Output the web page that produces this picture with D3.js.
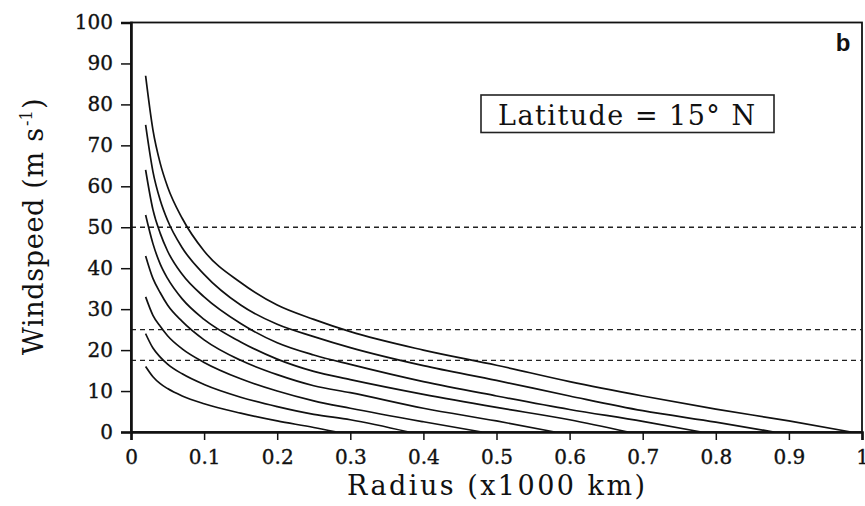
<!DOCTYPE html>
<html>
<head>
<meta charset="utf-8">
<script src="https://cdn.jsdelivr.net/npm/d3@7"></script>
<style>
  html, body { margin: 0; padding: 0; background: #fff; }
  svg { display: block; }
</style>
</head>
<body>
<svg id="chart" width="865" height="506"></svg>
<script>
// Radius (x1000 km) sample positions for each wind profile
const radius1 = [0.02, 0.03, 0.04, 0.05, 0.07, 0.1, 0.15, 0.2, 0.25, 0.3, 0.4, 0.5, 0.6, 0.7, 0.8, 0.9, 0.985];
const speed1  = [87, 73.8, 65.6, 59.9, 52.2, 44.2, 36.5, 31, 27.5, 24.5, 20, 16.3, 12.3, 8.8, 5.6, 2.7, 0];

const radius2 = [0.02, 0.03, 0.04, 0.05, 0.07, 0.1, 0.15, 0.2, 0.25, 0.3, 0.4, 0.5, 0.6, 0.7, 0.8, 0.88];
const speed2  = [75, 63.6, 56.6, 51.7, 45, 38.5, 31, 26.3, 23.3, 20.6, 16.2, 12.6, 8.8, 5.2, 2.4, 0];

const radius3 = [0.02, 0.03, 0.04, 0.05, 0.07, 0.1, 0.15, 0.2, 0.25, 0.3, 0.4, 0.5, 0.6, 0.7, 0.78];
const speed3  = [64, 54.3, 48.5, 44.2, 38.5, 33, 26.5, 21.8, 18.8, 16.5, 12.3, 8.8, 5.5, 2.6, 0];

const radius4 = [0.02, 0.03, 0.04, 0.05, 0.07, 0.1, 0.15, 0.2, 0.25, 0.3, 0.4, 0.5, 0.6, 0.68];
const speed4  = [53, 46, 41, 37.5, 32.5, 27.5, 22, 17.8, 14.8, 12.8, 9.2, 6, 3, 0];

const radius5 = [0.02, 0.03, 0.04, 0.05, 0.07, 0.1, 0.15, 0.2, 0.25, 0.3, 0.4, 0.5, 0.58];
const speed5  = [43, 37.5, 34, 31, 27, 22.5, 17.5, 14, 11.3, 9.6, 5.8, 2.7, 0];

const radius6 = [0.02, 0.03, 0.04, 0.05, 0.07, 0.1, 0.15, 0.2, 0.25, 0.3, 0.4, 0.48];
const speed6  = [33, 28.5, 25.8, 23.5, 20.3, 17, 13, 10, 7.6, 5.8, 2.5, 0];

const radius7 = [0.02, 0.03, 0.04, 0.05, 0.07, 0.1, 0.15, 0.2, 0.25, 0.3, 0.38];
const speed7  = [24, 20.5, 18.3, 16.6, 14.2, 11.6, 8.5, 6.2, 4.3, 3, 0];

const radius8 = [0.02, 0.03, 0.04, 0.05, 0.07, 0.1, 0.15, 0.2, 0.25, 0.28];
const speed8  = [16, 13.5, 11.8, 10.6, 8.8, 6.9, 4.6, 2.7, 1.1, 0];

// Reference wind-speed thresholds (m/s), drawn as dashed lines
const thresholds = [50, 25, 17.5];

const xTicks = [0, 0.1, 0.2, 0.3, 0.4, 0.5, 0.6, 0.7, 0.8, 0.9, 1];
const xTickLabels = ["0", "0.1", "0.2", "0.3", "0.4", "0.5", "0.6", "0.7", "0.8", "0.9", "1"];
const yTicks = [0, 10, 20, 30, 40, 50, 60, 70, 80, 90, 100];

const profiles = [
  [radius1, speed1], [radius2, speed2], [radius3, speed3], [radius4, speed4],
  [radius5, speed5], [radius6, speed6], [radius7, speed7], [radius8, speed8]
];

const svg = d3.select("#chart");
const plotLeft = 131, plotRight = 862, plotTop = 22.5, plotBottom = 432;
const serif = "'DejaVu Serif', 'Liberation Serif', serif";
const ink = "#111";

const x = d3.scaleLinear().domain([0, 1]).range([plotLeft, plotRight]);
const y = d3.scaleLinear().domain([0, 100]).range([plotBottom, plotTop]);

// Frame
svg.append("rect")
  .attr("x", plotLeft).attr("y", plotTop)
  .attr("width", plotRight - plotLeft).attr("height", plotBottom - plotTop)
  .attr("fill", "none").attr("stroke", ink).attr("stroke-width", 1.8);

// Dashed threshold lines
svg.selectAll("line.thr").data(thresholds).join("line")
  .attr("class", "thr")
  .attr("x1", plotLeft).attr("x2", plotRight)
  .attr("y1", d => y(d)).attr("y2", d => y(d))
  .attr("stroke", "#222").attr("stroke-width", 1.4)
  .attr("stroke-dasharray", "5,4");

// Wind profiles
const line = d3.line().x(d => x(d[0])).y(d => y(d[1])).curve(d3.curveMonotoneX);
svg.selectAll("path.profile").data(profiles).join("path")
  .attr("class", "profile")
  .attr("d", p => line(p[0].map((r, i) => [r, p[1][i]])))
  .attr("fill", "none").attr("stroke", ink).attr("stroke-width", 1.7);

// Axes
function styleTicks(g) {
  g.select(".domain").attr("stroke", ink).attr("stroke-width", 2.6);
  g.selectAll(".tick line").attr("stroke", ink).attr("stroke-width", 1.5);
  g.selectAll(".tick text")
    .attr("font-family", serif).attr("font-size", 20).attr("fill", ink)
    .attr("stroke", ink).attr("stroke-width", 0.35);
}

const xAxis = d3.axisBottom(x).tickValues(xTicks)
  .tickFormat((d, i) => xTickLabels[i]).tickSize(8).tickPadding(10);
const gx = svg.append("g").attr("transform", `translate(0,${plotBottom})`).call(xAxis);
styleTicks(gx);

const yAxis = d3.axisLeft(y).tickValues(yTicks).tickSize(10).tickPadding(8);
const gy = svg.append("g").attr("transform", `translate(${plotLeft},0)`).call(yAxis);
styleTicks(gy);

// Axis titles
svg.append("text")
  .attr("x", 347).attr("y", 495)
  .attr("textLength", 298).attr("lengthAdjust", "spacing")
  .attr("font-family", serif).attr("font-size", 27).attr("fill", ink)
  .text("Radius (x1000 km)");

const yTitle = svg.append("g").attr("transform", "translate(43,355) rotate(-90)")
  .attr("font-family", serif).attr("fill", ink);
yTitle.append("text")
  .attr("x", 0).attr("y", 0)
  .attr("textLength", 227).attr("lengthAdjust", "spacing")
  .attr("font-size", 27)
  .text("Windspeed (m s");
yTitle.append("text")
  .attr("x", 229).attr("y", -11)
  .attr("font-size", 16)
  .text("-1");
yTitle.append("text")
  .attr("x", 246).attr("y", 0)
  .attr("font-size", 27)
  .text(")");

// Latitude label box
const boxX = 481, boxY = 95, boxW = 293, boxH = 37.5;
svg.append("rect")
  .attr("x", boxX).attr("y", boxY).attr("width", boxW).attr("height", boxH)
  .attr("fill", "#fff").attr("stroke", "#222").attr("stroke-width", 1.6);
svg.append("text")
  .attr("x", 498).attr("y", 125)
  .attr("textLength", 257).attr("lengthAdjust", "spacing")
  .attr("font-family", serif).attr("font-size", 27).attr("fill", ink)
  .text("Latitude = 15° N");

// Panel letter
svg.append("text")
  .attr("x", 843).attr("y", 50.5)
  .attr("text-anchor", "middle")
  .attr("font-family", "'Liberation Sans', 'DejaVu Sans', sans-serif").attr("font-weight", "bold")
  .attr("font-size", 24).attr("fill", ink)
  .text("b");
</script>
</body>
</html>
